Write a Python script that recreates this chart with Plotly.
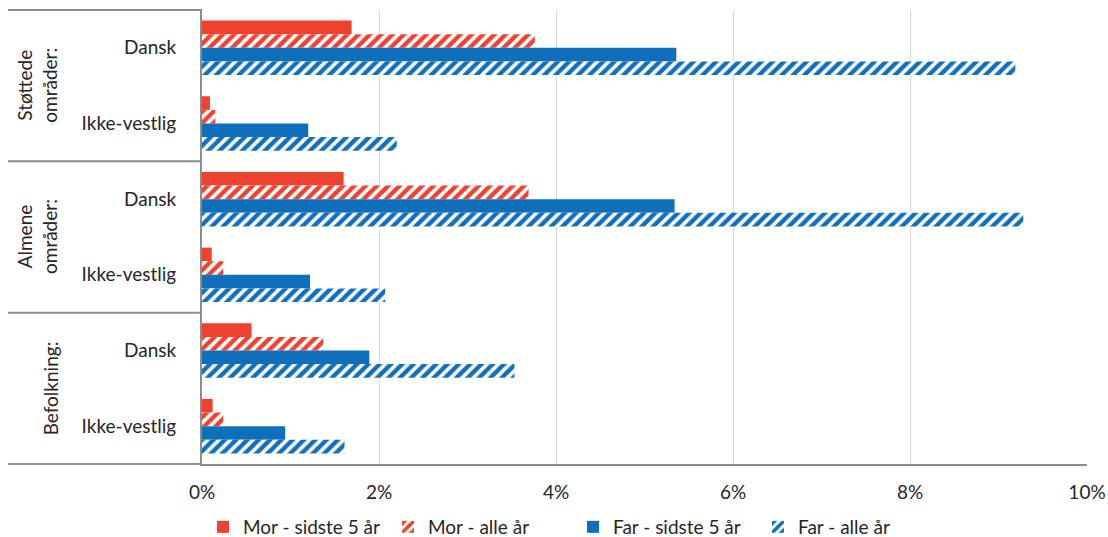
import plotly.graph_objects as go

# Data
groups = ["Støttede<br>områder:", "Almene<br>områder:", "Befolkning:"]
sub_labels = ["Dansk", "Ikke-vestlig", "Dansk", "Ikke-vestlig", "Dansk", "Ikke-vestlig"]
category_keys = ["S-Dansk", "S-Ikke-vestlig", "A-Dansk", "A-Ikke-vestlig", "B-Dansk", "B-Ikke-vestlig"]

mor_5 = [1.69, 0.09, 1.60, 0.11, 0.56, 0.12]
mor_alle = [3.76, 0.15, 3.69, 0.24, 1.37, 0.24]
far_5 = [5.36, 1.20, 5.34, 1.22, 1.89, 0.94]
far_alle = [9.19, 2.20, 9.28, 2.07, 3.53, 1.61]

series_names = ["Mor - sidste 5 år", "Mor - alle år", "Far - sidste 5 år", "Far - alle år"]
x_ticks = [0, 2, 4, 6, 8, 10]
x_ticktext = ["0%", "2%", "4%", "6%", "8%", "10%"]

RED = "#EE4130"
BLUE = "#0F6FBA"
FONT = "Lato"
FS = 19

fig = go.Figure()
series = [
    (series_names[0], [v / 100 for v in mor_5], RED, False),
    (series_names[1], [v / 100 for v in mor_alle], RED, True),
    (series_names[2], [v / 100 for v in far_5], BLUE, False),
    (series_names[3], [v / 100 for v in far_alle], BLUE, True),
]
for name, vals, col, hatched in series:
    if hatched:
        marker = dict(color=col, pattern=dict(shape="/", fgcolor=col, bgcolor="white",
                                             size=8, solidity=0.55, fillmode="replace",
                                             fgopacity=1),
                      line=dict(width=0))
    else:
        marker = dict(color=col, line=dict(width=0))
    fig.add_trace(go.Bar(y=category_keys, x=vals, name=name, orientation="h", marker=marker))

fig.update_layout(
    width=1108, height=537,
    barmode="group", bargap=0.28, bargroupgap=0,
    plot_bgcolor="white", paper_bgcolor="white",
    margin=dict(l=202, r=21, t=10, b=73, autoexpand=False),
    font=dict(family=FONT, size=FS, color="#262626"),
    legend=dict(orientation="h", xref="container", yref="container", x=203 / 1108, xanchor="left",
                y=1 - 527 / 537, yanchor="middle", font=dict(size=FS), traceorder="normal",
                itemwidth=30, entrywidth=140, entrywidthmode="pixels"),
    xaxis=dict(range=[0, 0.1], tickvals=[t / 100 for t in x_ticks], ticktext=x_ticktext,
               showgrid=True, gridcolor="#D9D9D9", gridwidth=1, zeroline=False,
               showline=True, linecolor="#8C8C8C", linewidth=2, ticks="",
               ticklabelstandoff=10, automargin=False),
    yaxis=dict(type="category", categoryorder="array", categoryarray=category_keys,
               range=[5.5, -0.5], tickvals=category_keys, ticktext=sub_labels,
               showline=True, linecolor="#8C8C8C", linewidth=2, ticks="", showgrid=False,
               ticklabelstandoff=20, automargin=False),
)

plot_w = 1108 - 202 - 21
x_left = (8 - 202) / plot_w
group_x_px = [37, 37, 50]
for i, g in enumerate(groups):
    yc = 1 - (2 * i + 1) / 6
    fig.add_annotation(text=g, xref="paper", yref="paper", x=(group_x_px[i] - 202) / plot_w, y=yc,
                       textangle=-90, showarrow=False, font=dict(size=FS, family=FONT),
                       xanchor="center", yanchor="middle", align="center")
for yb in [1, 2 / 3, 1 / 3, 0]:
    fig.add_shape(type="line", xref="paper", yref="paper", x0=x_left, x1=0, y0=yb, y1=yb,
                  line=dict(color="#8C8C8C", width=2))

fig.write_html("out.html", config={"displayModeBar": False})

# remove default page margin so the figure sits at the window's top-left corner
with open("out.html", "r", encoding="utf-8") as f:
    html = f.read()
html = html.replace("<head>", "<head><style>html,body{margin:0;padding:0;overflow:hidden;}</style>", 1)
with open("out.html", "w", encoding="utf-8") as f:
    f.write(html)
